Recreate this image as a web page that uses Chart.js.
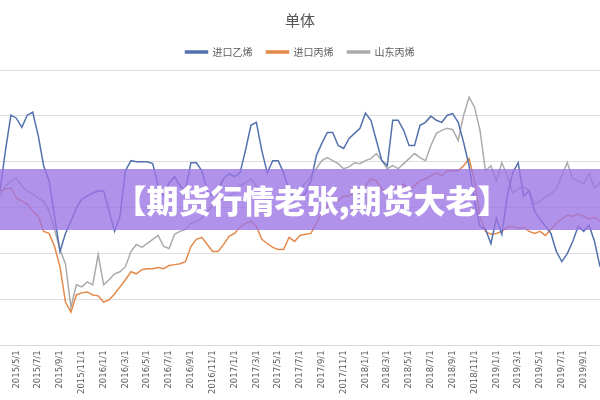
<!DOCTYPE html>
<html>
<head>
<meta charset="utf-8">
<script src="https://cdn.jsdelivr.net/npm/chart.js@4.4.0/dist/chart.umd.min.js"></script>
<style>
  body { margin: 0; background: #fff; }
  #wrap { position: relative; width: 600px; height: 400px; }
  #banner {
    position: absolute; left: 0; top: 169px; width: 600px; height: 61px;
    background: rgba(155, 115, 228, 0.78);
    color: #fff; font-family: "Noto Sans CJK SC", sans-serif; font-weight: 900;
    font-size: 32px; line-height: 61px; text-align: center; text-indent: 24px;
  }
</style>
</head>
<body>
<div id="wrap">
  <canvas id="chart" width="600" height="400"></canvas>
  <div id="banner">【期货行情老张,期货大老】</div>
</div>
<script>
const seriesNames = ['进口乙烯', '进口丙烯', '山东丙烯'];
const lineColors = ['#5271ad', '#e5894a', '#ababab'];

// half-month dates, 2015/3/16 .. 2019/10/16
const dates = [];
for (let y = 2015, m = 3, d = 16; dates.length < 111; ) {
    dates.push(`${y}/${m}/${d}`);
    if (d === 1) { d = 16; } else { d = 1; m++; if (m > 12) { m = 1; y++; } }
}

const importEthylene = [
    1073, 1250, 1403, 1390, 1350, 1403, 1416, 1315, 1183, 1117,
    963, 809, 888, 941, 998, 1038, 1051, 1064, 1073, 1073,
    985, 897, 963, 1161, 1205, 1200, 1200, 1200, 1192, 1095,
    1051, 1108, 1135, 1095, 1073, 1196, 1196, 1161, 1073, 1051,
    1082, 1126, 1148, 1135, 1152, 1249, 1359, 1372, 1249, 1152,
    1205, 1205, 1152, 1073, 1038, 1038, 1064, 1117, 1227, 1280,
    1328, 1328, 1271, 1258, 1302, 1324, 1346, 1412, 1381, 1293,
    1205, 1183, 1381, 1381, 1337, 1271, 1271, 1359, 1372, 1399,
    1381, 1372, 1403, 1410, 1372, 1284, 1183, 1029, 919, 906,
    844, 954, 884, 1051, 1152, 1196, 1051, 1073, 985, 950,
    919, 888, 809, 765, 800, 853, 919, 897, 924, 853,
    743
];
const importPropylene = [
    1073, 1082, 1086, 1042, 1029, 1016, 985, 963, 897, 888,
    831, 743, 589, 545, 620, 629, 633, 620, 616, 589,
    598, 624, 655, 686, 721, 712, 730, 734, 734, 739,
    734, 748, 752, 756, 765, 831, 862, 871, 840, 809,
    809, 840, 875, 888, 915, 932, 941, 919, 862, 844,
    827, 818, 818, 871, 853, 879, 884, 888, 932, 976,
    1007, 1038, 1029, 1051, 1051, 1064, 1082, 1095, 1126, 1117,
    1082, 1064, 1095, 1082, 1104, 1073, 1095, 1117, 1126, 1139,
    1152, 1139, 1161, 1161, 1161, 1183, 1214, 1117, 963, 897,
    884, 888, 897, 915, 919, 910, 915, 897, 888, 897,
    879, 906, 932, 950, 967, 963, 972, 963, 950, 958,
    941
];
const shandongPropylene = [
    1051, 1095, 1117, 1130, 1095, 1073, 1060, 1042, 1029, 985,
    906, 818, 756, 567, 664, 655, 677, 664, 796, 664,
    686, 712, 721, 743, 809, 840, 827, 845, 862, 879,
    831, 822, 884, 897, 906, 932, 941, 954, 985, 1007,
    1029, 1038, 1051, 1064, 1095, 1108, 1126, 1095, 1051, 1029,
    1047, 1051, 1029, 1038, 1064, 1082, 1108, 1139, 1170, 1205,
    1218, 1205, 1192, 1170, 1178, 1196, 1192, 1205, 1214, 1236,
    1205, 1170, 1183, 1170, 1192, 1214, 1236, 1218, 1205, 1271,
    1324, 1337, 1346, 1340, 1293, 1403, 1482, 1438, 1337, 1161,
    1183, 1117, 1196, 1139, 1064, 1082, 1091, 1073, 1016, 1029,
    1047, 1060, 1082, 1139, 1196, 1126, 1117, 1104, 1148, 1086,
    1108
];
const allSeries = [importEthylene, importPropylene, shandongPropylene];

const datasets = allSeries.map((data, i) => ({
    label: seriesNames[i],
    data: data,
    borderColor: lineColors[i],
    backgroundColor: lineColors[i],
    borderWidth: 1.5,
    pointRadius: 0,
    tension: 0
}));

// a little more room between legend and plot
const legendGap = {
    id: 'legendGap',
    beforeInit(chart) {
        const fit = chart.legend.fit;
        chart.legend.fit = function () {
            fit.bind(chart.legend)();
            this.height += 3;
        };
    }
};

new Chart(document.getElementById('chart'), {
    type: 'line',
    data: { labels: dates, datasets: datasets },
    plugins: [legendGap],
    options: {
        responsive: false,
        animation: false,
        layout: { padding: { left: 0, right: 0, top: 4, bottom: 1 } },
        plugins: {
            title: {
                display: true, text: '单体', color: '#555',
                font: { size: 15, family: 'Noto Sans CJK SC', weight: 'normal' },
                padding: { top: 7, bottom: 4 }
            },
            legend: {
                labels: {
                    boxWidth: 22, boxHeight: 2, color: '#5a5a5a', padding: 14,
                    font: { size: 10, family: 'Noto Sans CJK SC' }
                }
            },
            tooltip: { enabled: false }
        },
        scales: {
            x: {
                grid: { display: false, drawTicks: false },
                border: { color: '#d9d9d9' },
                afterFit: s => { s.paddingLeft = 0; s.paddingRight = 0; },
                ticks: {
                    autoSkip: false, minRotation: 90, maxRotation: 90, padding: 5,
                    color: '#5a5a5a', font: { size: 8.5, family: 'DejaVu Sans' },
                    callback: function (v, idx) {
                        const p = dates[idx].split('/');
                        return (p[2] === '1' && p[1] % 2 === 1) ? dates[idx] : '';
                    }
                }
            },
            y: {
                min: 400, max: 1600,
                afterFit: s => { s.width = 0; },
                ticks: { display: false, stepSize: 200 },
                grid: { color: '#dedede', drawTicks: false },
                border: { display: false }
            }
        }
    }
});
</script>
</body>
</html>
